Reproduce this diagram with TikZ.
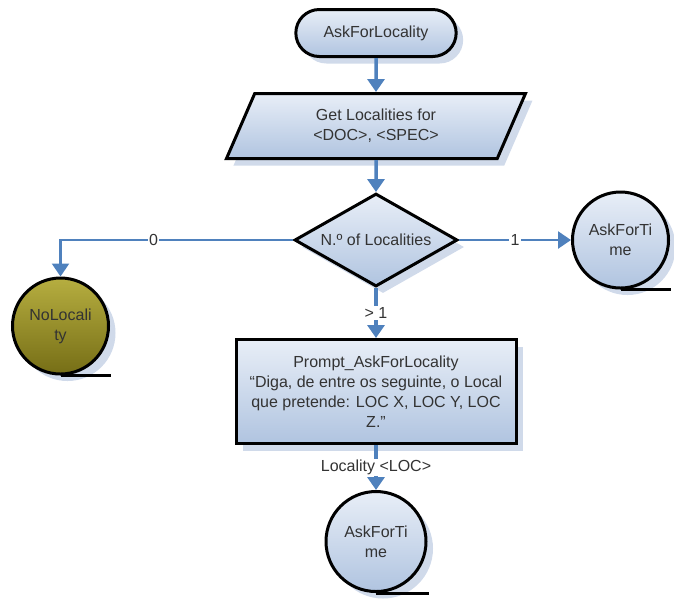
\documentclass[tikz,border=0pt]{standalone}
\usepackage{fontspec}
\setmainfont{Liberation Sans}
\usetikzlibrary{shapes.geometric, shapes.misc, arrows.meta, positioning, shadows}
\definecolor{fcblue}{RGB}{79,129,189}
\definecolor{fclight}{RGB}{232,238,247}
\definecolor{fcmid}{RGB}{176,196,224}
\definecolor{fcshadow}{RGB}{208,218,234}
\definecolor{fcolivelight}{RGB}{182,174,64}
\definecolor{fcolivedark}{RGB}{118,110,22}
\begin{document}
\begin{tikzpicture}[node distance=1cm, font=\fontsize{16}{20}\selectfont,
  fcfill/.style={draw=black, line width=3pt, top color=fclight, bottom color=fcmid, text=black!80, align=center,
    drop shadow={shadow xshift=7pt, shadow yshift=-7pt, fill=fcshadow, opacity=1}},
  term/.style={fcfill, rounded rectangle, minimum width=167pt, minimum height=47pt},
  io/.style={fcfill, trapezium, trapezium left angle=50, trapezium right angle=130, trapezium stretches body,
    minimum width=299pt, minimum height=65pt, inner sep=0pt},
  dec/.style={fcfill, diamond, aspect=1.75, minimum width=163pt, minimum height=93pt, inner sep=0pt},
  proc/.style={fcfill, rectangle, minimum width=280pt, minimum height=104pt},
  tape/.style={fcfill, circle, minimum size=96pt, inner sep=0pt},
  nope/.style={tape, top color=fcolivelight, bottom color=fcolivedark},
  tail/.style={draw=black, line width=3pt},
  arr/.style={-{Triangle[width=17pt,length=13pt]}, line width=3.5pt, draw=fcblue},
  side/.style={arr, line width=2.5pt},
  lbl/.style={fill=white, inner sep=1.5pt, text=black!80}
]
\useasboundingbox (0,0) rectangle (674pt,-606pt);
\node[term] (start) at (376pt,-33pt) {AskForLocality};
\node[io, below=34pt of start] (getloc) {Get Localities for\\<DOC>, <SPEC>};
\node[dec, below=32pt of getloc] (count) {N.º of Localities};
\node[proc, below=50pt of count] (prompt) {Prompt\_AskForLocality\\“Diga, de entre os seguinte, o Local\\que pretende: LOC X, LOC Y, LOC\\Z.”};
\node[tape, minimum size=100pt, below=45pt of prompt] (time2) {AskForTi\\me};
\node[tape, right=112pt of count] (time1) {AskForTi\\me};
\node[nope, left=183pt of count, yshift=-86pt] (noloc) {NoLocali\\ty};
% tape tails
\draw[tail] (noloc.south) -- ++(50pt,0);
\draw[tail] (time1.south) -- ++(50pt,0);
\draw[tail] (time2.south) -- ++(53pt,0);
\draw[arr] (start) -- (getloc);
\draw[arr] (getloc) -- (count);
\draw[side] (count.west) -| node[lbl, pos=0.3] {0} (noloc.north);
\draw[side] (count.east) -- node[lbl] {1} (time1.west);
\draw[arr] (count) -- node[lbl] {> 1} (prompt);
\draw[arr] (prompt) -- node[lbl] {Locality <LOC>} (time2);
\end{tikzpicture}
\end{document}
